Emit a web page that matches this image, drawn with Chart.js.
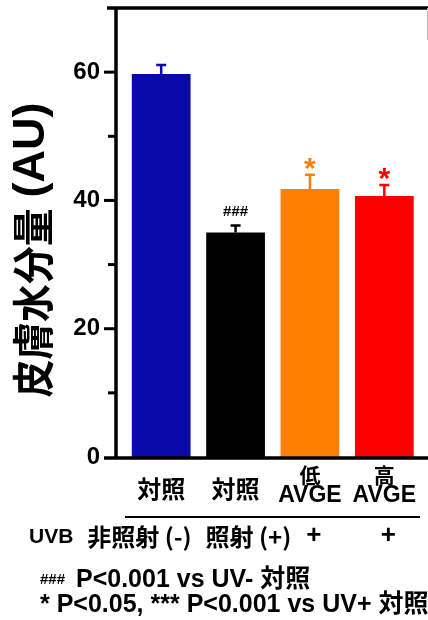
<!DOCTYPE html>
<html><head><meta charset="utf-8">
<script src="https://cdn.jsdelivr.net/npm/chart.js@4"></script>
<style>html,body{margin:0;padding:0;background:#fff}canvas{display:block}</style>
</head><body>
<canvas id="c" width="428" height="620"></canvas>
<script>
// ---- data ----
const categories = ['対照', '対照', 'AVGE', 'AVGE'];
const categoryPrefix = ['', '', '低', '高'];
const uvbLabels = ['非照射 (-)', '照射 (+)', '+', '+'];
const values = [59.7, 35.0, 41.8, 40.7];
const errors = [1.4, 1.1, 2.2, 1.7];
const marks = ['', '###', '*', '*'];
const barColors = ['#0a0aa8', '#000000', '#ff8000', '#ff0000'];
const yTicks = [0, 20, 40, 60];
const yTitleCJK = '皮膚水分量';
const yTitleLatin = '(AU)';
const footnote1Mark = '###';
const footnote1 = 'P<0.001 vs UV- 対照';
const footnote2 = '* P<0.05, *** P<0.001 vs UV+ 対照';

const LATIN = '"Liberation Sans", Arial, "Noto Sans CJK JP", sans-serif';
const CJK = '"Noto Sans CJK JP", sans-serif';

const deco = {
  id: 'deco',
  afterDatasetsDraw(chart) {
    const ctx = chart.ctx, y = chart.scales.y;
    const meta = chart.getDatasetMeta(0);
    ctx.save();
    meta.data.forEach((bar, i) => {
      const top = y.getPixelForValue(values[i] + errors[i]);
      ctx.strokeStyle = barColors[i];
      ctx.lineWidth = 2.5;
      ctx.beginPath();
      ctx.moveTo(bar.x, bar.y);
      ctx.lineTo(bar.x, top);
      ctx.moveTo(bar.x - 5, top);
      ctx.lineTo(bar.x + 5, top);
      ctx.stroke();
      if (marks[i]) {
        ctx.fillStyle = barColors[i];
        ctx.textAlign = 'center';
        if (marks[i] === '###') {
          ctx.font = 'bold 15px ' + LATIN;
          ctx.textBaseline = 'middle';
          ctx.fillText(marks[i], bar.x, top - 14);
        } else {
          ctx.font = 'bold 30px ' + LATIN;
          ctx.textBaseline = 'alphabetic';
          ctx.fillText(marks[i], bar.x, top + 3);
        }
      }
    });
    ctx.restore();
  },
  afterDraw(chart) {
    const ctx = chart.ctx, y = chart.scales.y, x = chart.scales.x;
    const ca = chart.chartArea;
    const axisX = ca.left - 8;
    const y0 = y.getPixelForValue(0);
    const yTop = y.getPixelForValue(70);
    ctx.save();
    ctx.strokeStyle = '#000';
    ctx.fillStyle = '#000';
    ctx.lineWidth = 3.5;
    ctx.beginPath();
    ctx.moveTo(axisX, yTop - 1);
    ctx.lineTo(axisX, y0 + 1);
    ctx.moveTo(axisX - 9, yTop);
    ctx.lineTo(428, yTop);
    ctx.moveTo(axisX - 12, y0 + 1);
    ctx.lineTo(428, y0 + 1);
    ctx.stroke();
    ctx.lineWidth = 1;
    ctx.strokeStyle = '#bbb';
    ctx.beginPath();
    ctx.moveTo(427.5, yTop);
    ctx.lineTo(427.5, 40);
    ctx.stroke();
    // y ticks
    ctx.strokeStyle = '#000';
    ctx.lineWidth = 3;
    for (let v = 10; v <= 60; v += 10) {
      const py = y.getPixelForValue(v);
      const len = yTicks.includes(v) ? 12 : 8;
      ctx.beginPath();
      ctx.moveTo(axisX - len, py);
      ctx.lineTo(axisX, py);
      ctx.stroke();
    }
    // y title
    const sc = 0.9;
    ctx.save();
    ctx.translate(31, 250);
    ctx.rotate(-Math.PI / 2);
    ctx.textBaseline = 'middle';
    ctx.font = 'bold 42px ' + CJK;
    const wC = ctx.measureText(yTitleCJK).width * sc;
    ctx.font = 'bold 45px ' + LATIN;
    const wL = ctx.measureText(yTitleLatin).width;
    const gap = 11;
    const total = wC + gap + wL;
    const sx = -total / 2;
    ctx.save();
    ctx.font = 'bold 42px ' + CJK;
    ctx.translate(sx, 0);
    ctx.scale(sc, 1);
    ctx.textAlign = 'left';
    ctx.fillText(yTitleCJK, 0, 2);
    ctx.restore();
    ctx.font = 'bold 45px ' + LATIN;
    ctx.textAlign = 'left';
    ctx.fillText(yTitleLatin, sx + wC + gap, 1);
    ctx.restore();
    // x labels
    ctx.textAlign = 'center';
    ctx.textBaseline = 'middle';
    categories.forEach((c, i) => {
      const px = x.getPixelForValue(i);
      if (categoryPrefix[i]) {
        ctx.font = 'bold 21px ' + CJK;
        ctx.fillText(categoryPrefix[i], px, 475);
        ctx.font = 'bold 23px ' + LATIN;
        ctx.fillText(c, px, 496);
      } else {
        ctx.font = 'bold 24px ' + CJK;
        ctx.fillText(c, px, 489);
      }
    });
    // separator
    ctx.lineWidth = 2;
    ctx.beginPath();
    ctx.moveTo(125, 517);
    ctx.lineTo(420, 517);
    ctx.stroke();
    // UVB row
    ctx.textAlign = 'left';
    ctx.font = 'bold 21px ' + LATIN;
    ctx.fillText('UVB', 29, 537);
    const uvbOffsets = [-74, -30, 0, 0];
    uvbLabels.forEach((t, i) => {
      const px = x.getPixelForValue(i);
      if (t === '+') {
        ctx.textAlign = 'center';
        ctx.font = 'bold 26px ' + LATIN;
        ctx.fillText(t, px + 4, 536);
      } else {
        ctx.textAlign = 'left';
        ctx.font = 'bold 24px ' + CJK;
        ctx.fillText(t, px + uvbOffsets[i], 537);
      }
    });
    // footnotes
    ctx.textAlign = 'left';
    ctx.textBaseline = 'alphabetic';
    ctx.font = 'bold 15px ' + LATIN;
    ctx.fillText(footnote1Mark, 40, 584);
    ctx.font = 'bold 25px ' + LATIN;
    ctx.fillText(footnote1, 76, 587);
    ctx.fillText(footnote2, 40, 612);
    ctx.restore();
  }
};

new Chart(document.getElementById('c'), {
  type: 'bar',
  data: {
    labels: categories,
    datasets: [{
      data: values,
      backgroundColor: barColors,
      borderWidth: 0,
      barPercentage: 0.79,
      categoryPercentage: 1.0
    }]
  },
  options: {
    responsive: false,
    animation: false,
    events: [],
    layout: { padding: { top: 8, right: 6.5, left: 0, bottom: 0 } },
    plugins: { legend: { display: false }, tooltip: { enabled: false } },
    scales: {
      x: {
        offset: true,
        grid: { display: false, drawTicks: false },
        border: { display: false },
        ticks: { display: false },
        afterFit: s => { s.height = 163; s.paddingLeft = 0; s.paddingRight = 0; }
      },
      y: {
        min: 0, max: 70,
        grid: { display: false, drawTicks: false },
        border: { display: false },
        afterFit: s => { s.width = 124; s.paddingTop = 0; s.paddingBottom = 0; },
        afterBuildTicks: s => { s.ticks = yTicks.map(v => ({ value: v })); },
        ticks: {
          padding: 24,
          color: '#000',
          font: { family: LATIN, size: 24, weight: 'bold' }
        }
      }
    }
  },
  plugins: [deco]
});
</script>
</body></html>
